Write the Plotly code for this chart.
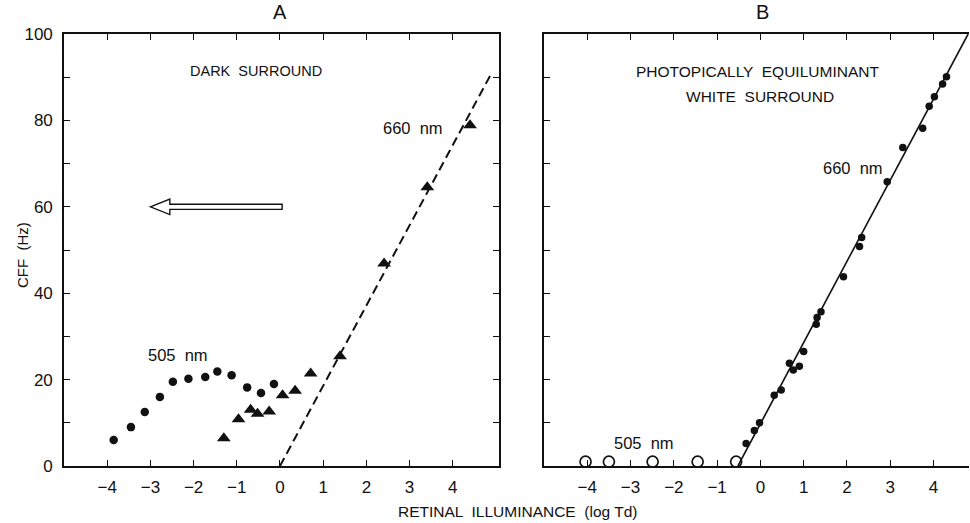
import plotly.graph_objects as go

# ---------------- data ----------------
# Panel A (dark surround)
rod_a_x = [-3.85, -3.45, -3.13, -2.78, -2.48, -2.12, -1.73, -1.45, -1.12, -0.76, -0.44, -0.14]
rod_a_y = [6.0, 9.0, 12.5, 16.0, 19.5, 20.2, 20.6, 21.9, 21.0, 18.2, 16.9, 19.0]
red_a_x = [-1.30, -0.96, -0.68, -0.52, -0.25, 0.06, 0.35, 0.71, 1.39, 2.41, 3.41, 4.40]
red_a_y = [6.4, 10.8, 13.0, 12.1, 12.6, 16.4, 17.4, 21.4, 25.4, 46.9, 64.5, 78.9]
fit_a_x = [0.0, 4.9]
fit_a_y = [0.0, 91.0]

# Panel B (photopically equiluminant white surround)
rod_b_x = [-4.04, -3.50, -2.49, -1.45, -0.56]
rod_b_y = [1.0, 1.0, 1.0, 1.0, 1.0]
red_b_x = [-0.33, -0.14, -0.02, 0.32, 0.48, 0.67, 0.76, 0.90, 1.00, 1.29, 1.31, 1.40,
           1.92, 2.29, 2.34, 2.93, 3.29, 3.75, 3.90, 4.02, 4.21, 4.30]
red_b_y = [5.2, 8.2, 10.0, 16.4, 17.6, 23.8, 22.2, 23.1, 26.5, 32.8, 34.4, 35.7,
           43.8, 50.8, 52.9, 65.8, 73.7, 78.2, 83.3, 85.5, 88.4, 90.1]
fit_b_x = [-0.52, 4.8]
fit_b_y = [0.0, 100.0]

x_ticks = [-4, -3, -2, -1, 0, 1, 2, 3, 4]
y_ticks = [0, 10, 20, 30, 40, 50, 60, 70, 80, 90, 100]
y_ticktext = ["0", "", "20", "", "40", "", "60", "", "80", "", "100"]

# arrow (panel A): tip, tail, level
arrow_tip = -3.0
arrow_tail = 0.05
arrow_level = 60.0

FONT = "Liberation Sans, Arial, Helvetica, sans-serif"
INK = "#111111"

fig = go.Figure()

fig.add_trace(go.Scatter(x=rod_a_x, y=rod_a_y, mode="markers",
                         marker=dict(symbol="circle", size=8.5, color=INK),
                         xaxis="x", yaxis="y", cliponaxis=False, showlegend=False))
fig.add_trace(go.Scatter(x=fit_a_x, y=fit_a_y, mode="lines",
                         line=dict(color=INK, width=2, dash="9px,5px"),
                         xaxis="x", yaxis="y", showlegend=False))
fig.add_trace(go.Scatter(x=red_a_x, y=red_a_y, mode="markers",
                         marker=dict(symbol="triangle-up", size=12, color=INK),
                         xaxis="x", yaxis="y", cliponaxis=False, showlegend=False))

fig.add_trace(go.Scatter(x=fit_b_x, y=fit_b_y, mode="lines",
                         line=dict(color=INK, width=1.6),
                         xaxis="x2", yaxis="y2", showlegend=False))
fig.add_trace(go.Scatter(x=red_b_x, y=red_b_y, mode="markers",
                         marker=dict(symbol="circle", size=7.5, color=INK),
                         xaxis="x2", yaxis="y2", cliponaxis=False, showlegend=False))
fig.add_trace(go.Scatter(x=rod_b_x, y=rod_b_y, mode="markers",
                         marker=dict(symbol="circle-open", size=11, color=INK, line=dict(width=1.7, color=INK)),
                         xaxis="x2", yaxis="y2", cliponaxis=False, showlegend=False))

W, H = 970, 523
ydom = [1 - 466 / H, 1 - 34 / H]

common_x = dict(tickvals=x_ticks, ticks="inside", ticklen=6, tickwidth=1.4, tickcolor=INK,
                showline=True, linecolor=INK, linewidth=1.6, mirror="ticks",
                showgrid=False, zeroline=False, automargin=False,
                tickfont=dict(family=FONT, size=17, color=INK), ticklabelstandoff=5)
common_y = dict(range=[0, 100], tickvals=y_ticks, ticks="inside", ticklen=6, tickwidth=1.4,
                tickcolor=INK, showline=True, linecolor=INK, linewidth=1.6,
                showgrid=False, zeroline=False, automargin=False, domain=ydom,
                tickfont=dict(family=FONT, size=17, color=INK))

fig.update_layout(
    width=W, height=H,
    margin=dict(l=0, r=0, t=0, b=0),
    paper_bgcolor="white", plot_bgcolor="white",
    font=dict(family=FONT, color=INK),
    xaxis=dict(domain=[64 / W, 499 / W], range=[-5.0, 5.07], anchor="y", **common_x),
    yaxis=dict(anchor="x", mirror="ticks", ticktext=y_ticktext, ticklabelstandoff=6, **common_y),
    xaxis2=dict(domain=[544 / W, 969 / W], range=[-5.0, 4.82], anchor="y2", **common_x),
    yaxis2=dict(anchor="x2", mirror=False, showticklabels=False, **common_y),
)

# hollow arrow in panel A
hl = 0.45   # head length (x units)
hh = 1.8    # head half height (y units)
sh = 0.6    # shaft half height
path = (f"M {arrow_tip},{arrow_level} L {arrow_tip + hl},{arrow_level + hh} "
        f"L {arrow_tip + hl},{arrow_level + sh} L {arrow_tail},{arrow_level + sh} "
        f"L {arrow_tail},{arrow_level - sh} L {arrow_tip + hl},{arrow_level - sh} "
        f"L {arrow_tip + hl},{arrow_level - hh} Z")
fig.add_shape(type="path", path=path, xref="x", yref="y",
              line=dict(color=INK, width=1.4), fillcolor="white")

def note(text, x, y, xref, yref, size, **kw):
    fig.add_annotation(text=text, x=x, y=y, xref=xref, yref=yref, showarrow=False,
                       font=dict(family=FONT, size=size, color=INK), **kw)

note("A", 0.0, 1 - 12 / H, "x", "paper", 20, yanchor="middle", xanchor="center")
note("B", 0.05, 1 - 12 / H, "x2", "paper", 20, yanchor="middle", xanchor="center")
note("DARK  SURROUND", -0.55, 91.5, "x", "y", 14.5)
note("660  nm", 3.08, 78.2, "x", "y", 16.5)
note("505  nm", -2.36, 25.7, "x", "y", 16.5)
note("PHOTOPICALLY  EQUILUMINANT", -0.06, 91.3, "x2", "y2", 15.5)
note("WHITE  SURROUND", -0.02, 85.5, "x2", "y2", 15.5)
note("660  nm", 2.15, 69.0, "x2", "y2", 16.5)
note("505  nm", -2.68, 5.3, "x2", "y2", 16.5)
note("RETINAL  ILLUMINANCE  (log Td)", 517 / W, 1 - 511 / H, "paper", "paper", 15.5,
     yanchor="middle", xanchor="center")
note("CFF  (Hz)", 22 / W, 1 - 255 / H, "paper", "paper", 15, textangle=-90,
     yanchor="middle", xanchor="center")

fig.write_html("out.html")
